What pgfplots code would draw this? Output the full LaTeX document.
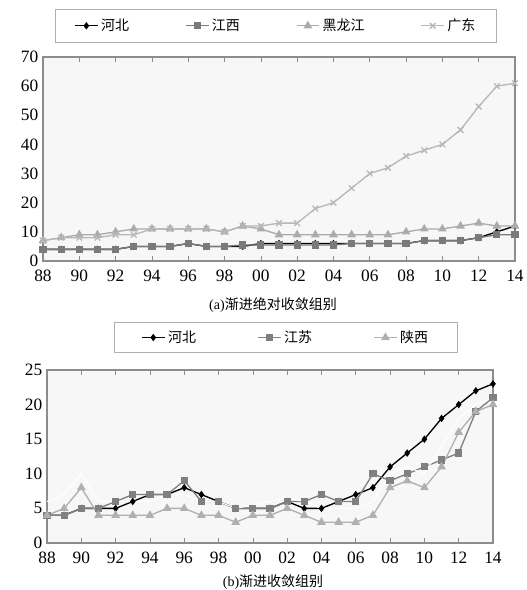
\documentclass[border=0pt]{standalone}
\usepackage{fontspec}
\setmainfont{Liberation Serif}
\newfontfamily\cjk{Noto Sans CJK SC}
\usepackage{pgfplots}
\pgfplotsset{compat=1.18}

\definecolor{bgc}{HTML}{F7F7F7}
\definecolor{frame}{HTML}{8C8C8C}
\definecolor{cHebei}{HTML}{000000}
\definecolor{cJiangxi}{HTML}{7A7A7A}
\definecolor{cHlj}{HTML}{ABABAB}
\definecolor{cGd}{HTML}{B8B8B8}
\definecolor{cJiangsu}{HTML}{808080}
\definecolor{cShaanxi}{HTML}{B0B0B0}

\pgfplotstableread{
year hebei jiangxi hlj gd
1988 4 4 7 7
1989 4 4 8 8
1990 4 4 9 8
1991 4 4 9 8
1992 4 4 10 9
1993 5 5 11 9
1994 5 5 11 11
1995 5 5 11 11
1996 6 6 11 11
1997 5 5 11 11
1998 5 5 10 10
1999 5 5.5 12 12
2000 6 5.5 11 12
2001 6 5.5 9 13
2002 6 5.5 9 13
2003 6 5.5 9 18
2004 6 5.5 9 20
2005 6 6 9 25
2006 6 6 9 30
2007 6 6 9 32
2008 6 6 10 36
2009 7 7 11 38
2010 7 7 11 40
2011 7 7 12 45
2012 8 8 13 53
2013 10 9 12 60
2014 12 9 12 61
}\dataA

\pgfplotstableread{
year hebei jiangsu shaanxi other
1988 4 4 4 6
1989 4 4 5 7
1990 5 5 8 10
1991 5 5 4 6
1992 5 6 4 6
1993 6 7 4 6
1994 7 7 4 6
1995 7 7 5 7
1996 8 9 5 7
1997 7 6 4 6
1998 6 6 4 6
1999 5 5 3 5
2000 5 5 4 5.5
2001 5 5 4 6
2002 6 6 5 6.5
2003 5 6 4 6
2004 5 7 3 5
2005 6 6 3 5
2006 7 6 3 5
2007 8 10 4 6
2008 11 9 8 10
2009 13 10 9 11
2010 15 11 8 10
2011 18 12 11 14
2012 20 13 16 18
2013 22 19 19 20
2014 23 21 20 21
}\dataB

\pgfplotsset{
  panel/.style={
    scale only axis,
    xmin=1988, xmax=2014, ymin=0,
    xtick={1988,1990,...,2014},
    xticklabels={88,90,92,94,96,98,00,02,04,06,08,10,12,14},
    minor x tick num=1,
    axis background/.style={fill=bgc},
    axis line style={frame, line width=0.8pt},
    tick align=inside,
    major tick length=4pt, minor tick length=4pt,
    xtick style={frame, line width=0.5pt},
    ytick style={draw=none},
    tick label style={font=\fontsize{13}{13}\selectfont},
    xticklabel style={yshift=-3pt},
    /pgf/number format/assume math mode=true,
    legend cell align=left,
    every axis plot/.append style={line width=1pt},
  },
}

\begin{document}
\begin{tikzpicture}
\useasboundingbox (0pt,0pt) rectangle (395.25pt,442.5pt);

% panel (a)
\begin{axis}[panel,
  at={(32.25pt,246.75pt)}, anchor=south west,
  width=354pt, height=153pt,
  ymax=70, ytick={0,10,...,70},
  legend style={at={(0.494,1)}, anchor=south, yshift=11pt,
    legend columns=4, draw=frame!70,
    font=\cjk\fontsize{10.5}{12}\selectfont,
    inner xsep=14pt, inner ysep=5pt,
    /tikz/every even column/.append style={column sep=40pt}},
]
\addplot[color=cHebei, mark=diamond*, mark size=2pt] table[x=year,y=hebei]{\dataA};
\addplot[color=cJiangxi, mark=square*, mark size=2.2pt] table[x=year,y=jiangxi]{\dataA};
\addplot[color=cHlj, mark=triangle*, mark size=2.8pt] table[x=year,y=hlj]{\dataA};
\addplot[color=cGd, mark=x, mark size=3pt] table[x=year,y=gd]{\dataA};
\legend{河北,江西,黑龙江,广东}
\end{axis}

\node[font=\fontsize{10.5}{12}\selectfont] at (204.75pt,213.75pt) {(a)\cjk 渐进绝对收敛组别};

% panel (b)
\begin{axis}[panel,
  at={(35.25pt,35.25pt)}, anchor=south west,
  width=334.5pt, height=129.75pt,
  ymax=25, ytick={0,5,...,25},
  legend style={at={(0.536,1)}, anchor=south, yshift=13pt,
    legend columns=3, draw=frame!70,
    font=\cjk\fontsize{10.5}{12}\selectfont,
    inner xsep=20pt, inner ysep=4pt,
    /tikz/every even column/.append style={column sep=44pt}},
]
\addplot[color=cHebei, mark=diamond*, mark size=2pt] table[x=year,y=hebei]{\dataB};
\addplot[color=cJiangsu, mark=square*, mark size=2.2pt] table[x=year,y=jiangsu]{\dataB};
\addplot[color=cShaanxi, mark=triangle*, mark size=2.8pt] table[x=year,y=shaanxi]{\dataB};
\addplot[forget plot, color=white, line width=0.8pt, mark=none] table[x=year,y=other]{\dataB};
\legend{河北,江苏,陕西}
\end{axis}

\node[font=\fontsize{10.5}{12}\selectfont] at (204.75pt,6pt) {(b)\cjk 渐进收敛组别};
\end{tikzpicture}
\end{document}
